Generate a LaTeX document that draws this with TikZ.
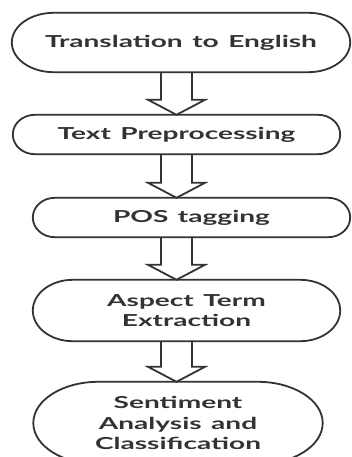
\documentclass[tikz,border=0pt]{standalone}
\usepackage{fontspec}
\setmainfont{Lato}[FakeStretch=1.7, WordSpace=1.4]
\usetikzlibrary{calc}
\definecolor{ink}{HTML}{333333}
\tikzset{
  stage/.style={inner sep=0pt, align=center, text=ink,
    font=\bfseries\fontsize{16.5}{20.5}\selectfont},
  outline/.style={draw=ink, line width=1.8pt},
  hollow/.style={draw=ink, line width=1.8pt, line join=miter},
}
% capsule outline with elliptical ends around a named node
\newcommand\capsule[2]{%
  \draw[outline] let \p1=(#1.north), \p2=(#1.south), \n1={0.5*(\y1-\y2)} in
    ([xshift=#2]#1.north west) -- ([xshift=-#2]#1.north east)
    arc[start angle=90, end angle=-90, x radius=#2, y radius=\n1]
    -- ([xshift=#2]#1.south west)
    arc[start angle=270, end angle=90, x radius=#2, y radius=\n1] -- cycle;
}
% hollow block arrow from one stage down to the next
\newcommand\blockarrow[2]{%
  \draw[hollow] ($(axis |- #1.south)+(-15.5,0)$)
    -- ($(axis |- #2.north)+(-15.5,-15)$)
    -- ($(axis |- #2.north)+(-28.5,-15)$)
    -- (axis |- #2.north)
    -- ($(axis |- #2.north)+(28.5,-15)$)
    -- ($(axis |- #2.north)+(15.5,-15)$)
    -- ($(axis |- #1.south)+(15.5,0)$);
}
\begin{document}
\begin{tikzpicture}[x=1pt, y=-1pt]
  \useasboundingbox (0,0) rectangle (351,457);
  \coordinate (axis) at (176.5,0);

  \node[stage, minimum width=338pt, minimum height=59pt] (s1) at (181,42.5)
    {Translation to English};
  \node[stage, minimum width=327pt, minimum height=39pt] (s2) at (176.5,134.5)
    {Text Preprocessing};
  \node[stage, minimum width=317pt, minimum height=39pt] (s3) at (191.5,217.5)
    {POS tagging};
  \node[stage, minimum width=307pt, minimum height=61pt] (s4) at (186.5,310.5)
    {Aspect Term\\Extraction};
  \node[stage, minimum width=289pt, minimum height=82pt] (s5) at (178,423)
    {Sentiment\\Analysis and\\Classification};

  \capsule{s1}{42pt}
  \capsule{s2}{22pt}
  \capsule{s3}{22pt}
  \capsule{s4}{40pt}
  \capsule{s5}{65pt}

  \blockarrow{s1}{s2}
  \blockarrow{s2}{s3}
  \blockarrow{s3}{s4}
  \blockarrow{s4}{s5}
\end{tikzpicture}
\end{document}
